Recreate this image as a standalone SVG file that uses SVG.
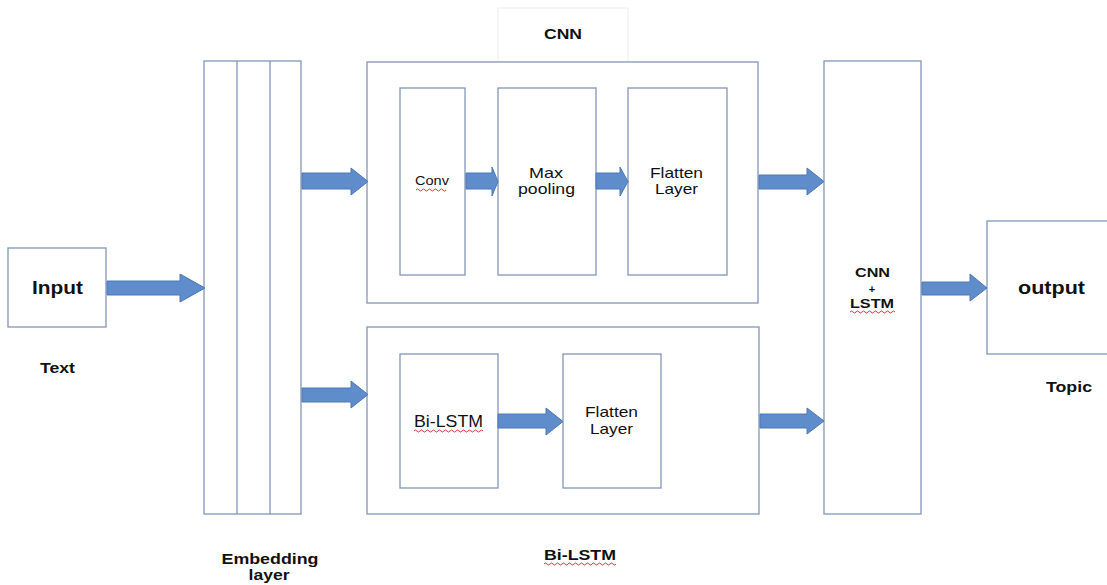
<svg xmlns="http://www.w3.org/2000/svg" width="1107" height="585" viewBox="0 0 1107 585">
  <defs>
    <style>
      .box { fill: #ffffff; stroke: #8195b5; stroke-width: 1.3; }
      .faint { fill: #ffffff; stroke: #eeeeee; stroke-width: 1; }
      .arrow { fill: #5f8ccb; stroke: #4d79b5; stroke-width: 1; }
      .lbl { font-family: "Liberation Sans", Arial, sans-serif; fill: #111111; text-anchor: middle; }
      .bold { font-weight: bold; }
      .squiggle { fill: none; stroke: #d02020; stroke-width: 0.9; }
    </style>
  </defs>
  <rect width="1107" height="585" fill="#ffffff"/>

  <!-- Input -->
  <g id="input">
    <rect class="box" x="8" y="248" width="98" height="79"/>
    <text class="lbl bold" x="57.5" y="294" font-size="19" textLength="51" lengthAdjust="spacingAndGlyphs">Input</text>
    <text class="lbl bold" x="57.5" y="373" font-size="14" textLength="35" lengthAdjust="spacingAndGlyphs">Text</text>
  </g>

  <!-- Embedding layer -->
  <g id="embedding">
    <rect class="box" x="204" y="61" width="97" height="453"/>
    <line class="box" x1="237" y1="61" x2="237" y2="514"/>
    <line class="box" x1="270" y1="61" x2="270" y2="514"/>
    <text class="lbl bold" x="270" y="564" font-size="14" textLength="97" lengthAdjust="spacingAndGlyphs">Embedding</text>
    <text class="lbl bold" x="269" y="580" font-size="14" textLength="41" lengthAdjust="spacingAndGlyphs">layer</text>
  </g>

  <!-- CNN branch -->
  <g id="cnn">
    <rect class="faint" x="498" y="8" width="130" height="54"/>
    <text class="lbl bold" x="563" y="39" font-size="14" textLength="38" lengthAdjust="spacingAndGlyphs">CNN</text>
    <rect class="box" x="367" y="62" width="391" height="241"/>
  </g>
  <g id="conv">
    <rect class="box" x="400" y="88" width="65" height="187"/>
    <text class="lbl" x="432" y="185" font-size="13" textLength="34" lengthAdjust="spacingAndGlyphs">Conv</text>
    <path class="squiggle" d="M416,190 q1.5,-2 3,0 t3,0 t3,0 t3,0 t3,0 t3,0 t3,0 t3,0 t3,0 t3,0"/>
  </g>
  <g id="maxpool">
    <rect class="box" x="498" y="88" width="98" height="187"/>
    <text class="lbl" x="546" y="178" font-size="15" textLength="34" lengthAdjust="spacingAndGlyphs">Max</text>
    <text class="lbl" x="546.5" y="194" font-size="15" textLength="57" lengthAdjust="spacingAndGlyphs">pooling</text>
  </g>
  <g id="flatten-cnn">
    <rect class="box" x="628" y="88" width="99" height="187"/>
    <text class="lbl" x="676.5" y="178" font-size="15" textLength="53" lengthAdjust="spacingAndGlyphs">Flatten</text>
    <text class="lbl" x="676.5" y="194" font-size="15" textLength="43" lengthAdjust="spacingAndGlyphs">Layer</text>
  </g>

  <!-- Bi-LSTM branch -->
  <g id="bilstm">
    <rect class="box" x="367" y="327" width="392" height="187"/>
    <text class="lbl bold" x="580" y="560" font-size="14" textLength="72" lengthAdjust="spacingAndGlyphs">Bi-LSTM</text>
    <path class="squiggle" d="M544,564 q1.5,-2 3,0 t3,0 t3,0 t3,0 t3,0 t3,0 t3,0 t3,0 t3,0 t3,0 t3,0 t3,0 t3,0 t3,0 t3,0 t3,0 t3,0 t3,0 t3,0 t3,0 t3,0 t3,0 t3,0 t3,0"/>
  </g>
  <g id="bilstm-layer">
    <rect class="box" x="400" y="354" width="98" height="134"/>
    <text class="lbl" x="448.5" y="427" font-size="16" textLength="69" lengthAdjust="spacingAndGlyphs">Bi-LSTM</text>
    <path class="squiggle" d="M414,431 q1.5,-2 3,0 t3,0 t3,0 t3,0 t3,0 t3,0 t3,0 t3,0 t3,0 t3,0 t3,0 t3,0 t3,0 t3,0 t3,0 t3,0 t3,0 t3,0 t3,0 t3,0 t3,0 t3,0 t3,0"/>
  </g>
  <g id="flatten-lstm">
    <rect class="box" x="563" y="354" width="98" height="134"/>
    <text class="lbl" x="611.5" y="417" font-size="15" textLength="53" lengthAdjust="spacingAndGlyphs">Flatten</text>
    <text class="lbl" x="611.5" y="434" font-size="15" textLength="43" lengthAdjust="spacingAndGlyphs">Layer</text>
  </g>

  <!-- Merge -->
  <g id="merge">
    <rect class="box" x="824" y="61" width="97" height="453"/>
    <text class="lbl bold" x="872.5" y="277" font-size="12.5" textLength="35" lengthAdjust="spacingAndGlyphs">CNN</text>
    <text class="lbl bold" x="872" y="293" font-size="11">+</text>
    <text class="lbl bold" x="872" y="308" font-size="12.5" textLength="44" lengthAdjust="spacingAndGlyphs">LSTM</text>
    <path class="squiggle" d="M850,312 q1.5,-2 3,0 t3,0 t3,0 t3,0 t3,0 t3,0 t3,0 t3,0 t3,0 t3,0 t3,0 t3,0 t3,0 t3,0 t3,0"/>
  </g>

  <!-- Output -->
  <g id="output">
    <rect class="box" x="987" y="221" width="125" height="133"/>
    <text class="lbl bold" x="1051.5" y="294" font-size="19" textLength="67" lengthAdjust="spacingAndGlyphs">output</text>
    <text class="lbl bold" x="1069" y="392" font-size="14" textLength="46" lengthAdjust="spacingAndGlyphs">Topic</text>
  </g>

  <!-- Block arrows -->
  <g id="connectors">
    <path class="arrow" d="M107,281 H180 V274 L205,288 L180,302 V295 H107 Z"/>
    <path class="arrow" d="M302,173 H351 V168 L368,181.5 L351,195 V189 H302 Z"/>
    <path class="arrow" d="M302,388 H351 V381 L368,394.5 L351,408 V402 H302 Z"/>
    <path class="arrow" d="M466,173 H492 V167 L498,181.5 L492,196 V189 H466 Z"/>
    <path class="arrow" d="M596,173 H620 V167 L628,181.5 L620,196 V189 H596 Z"/>
    <path class="arrow" d="M498,414 H546 V408 L563,421.5 L546,435 V428 H498 Z"/>
    <path class="arrow" d="M759,175 H807 V168 L824,181.5 L807,195 V189 H759 Z"/>
    <path class="arrow" d="M760,414 H807 V408 L824,421 L807,434 V428 H760 Z"/>
    <path class="arrow" d="M922,282 H970 V274 L987,288 L970,301 V295 H922 Z"/>
  </g>
</svg>
